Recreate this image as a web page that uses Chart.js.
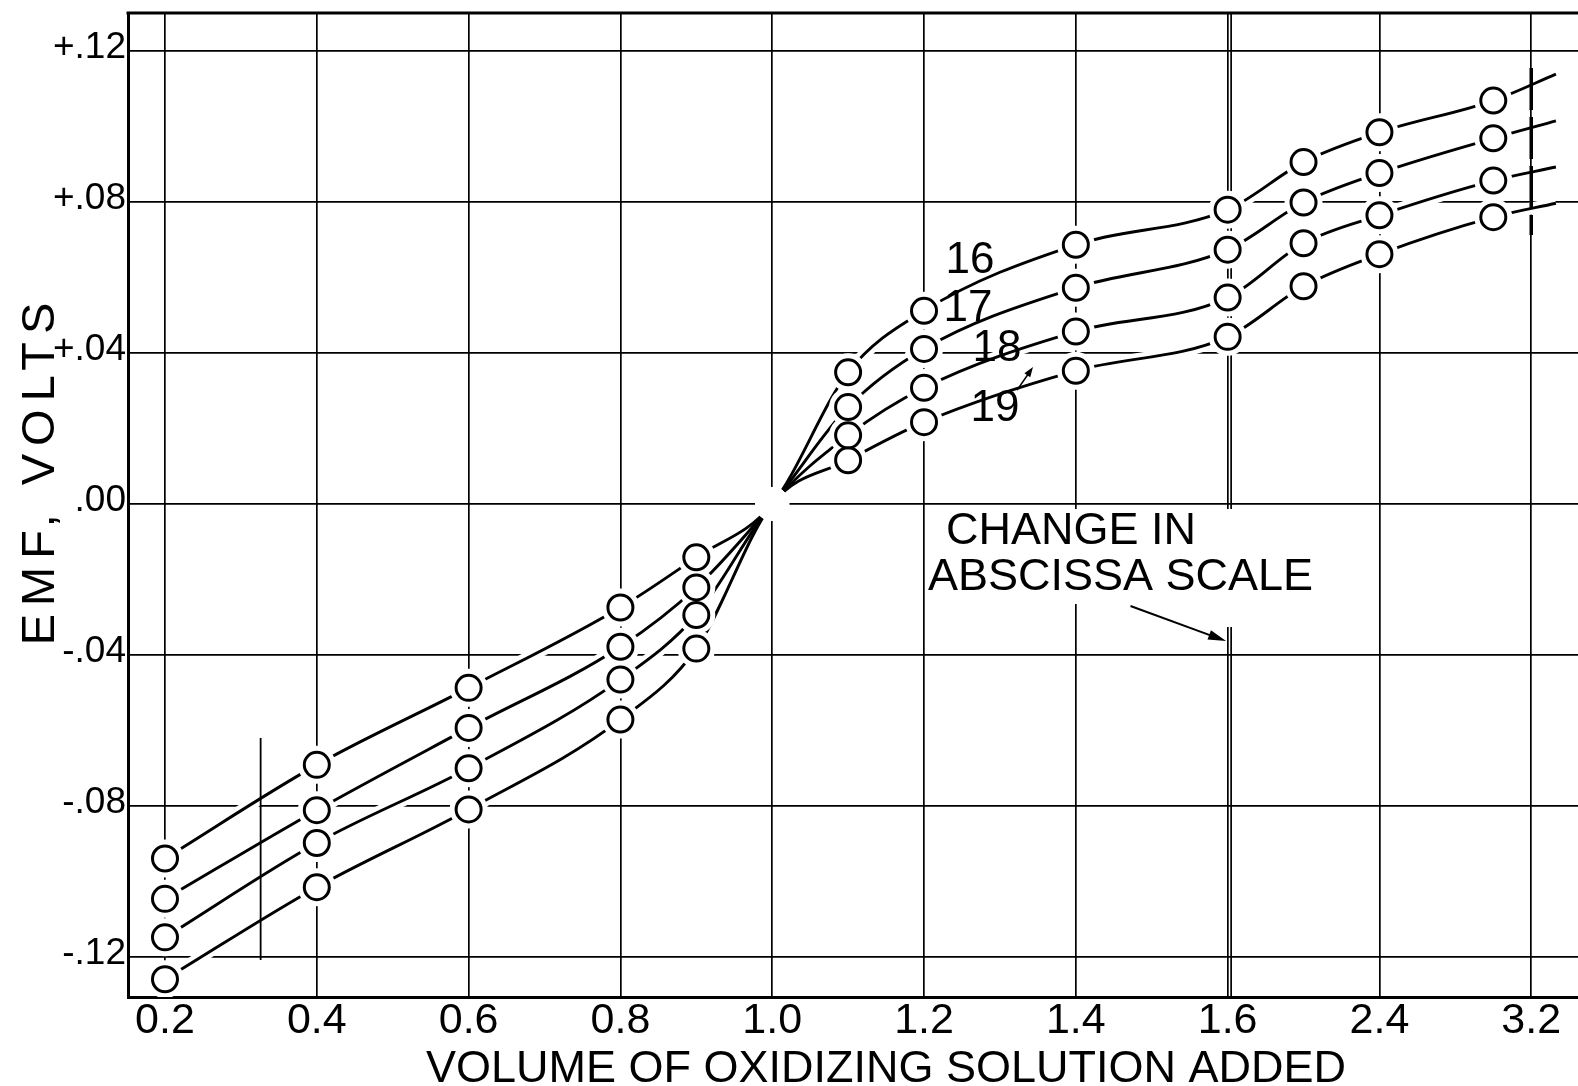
<!DOCTYPE html>
<html>
<head>
<meta charset="utf-8">
<title>EMF vs volume of oxidizing solution</title>
<script src="https://cdn.jsdelivr.net/npm/chart.js@4.4.1/dist/chart.umd.min.js"></script>
<style>
  html, body { margin: 0; padding: 0; background: #fff; overflow: hidden; }
  #wrap { position: relative; width: 1578px; height: 1086px; }
</style>
</head>
<body>
<div id="wrap"><canvas id="emfChart"></canvas></div>
<script>
// volumes of oxidizing solution where readings were taken
const volumes = [0.2, 0.4, 0.6, 0.8, 0.9, 1.0, 1.1, 1.2, 1.4, 1.6, 2.0, 2.4, 3.0];

// EMF readings (volts), one list per curve
const emf16 = [-0.0939, -0.0691, -0.0487, -0.0274, -0.0141, 0, 0.0349, 0.0512, 0.0687, 0.0780, 0.0906, 0.0985, 0.1069];
const emf17 = [-0.1046, -0.0811, -0.0593, -0.0378, -0.0221, 0, 0.0257, 0.0411, 0.0573, 0.0674, 0.0799, 0.0877, 0.0969];
const emf18 = [-0.1148, -0.0898, -0.0700, -0.0465, -0.0294, 0, 0.0182, 0.0308, 0.0457, 0.0547, 0.0691, 0.0765, 0.0857];
const emf19 = [-0.1259, -0.1015, -0.0809, -0.0571, -0.0383, 0, 0.0116, 0.0217, 0.0353, 0.0443, 0.0577, 0.0662, 0.0760];
const curveNames = ['16', '17', '18', '19'];

// short pen extensions past the last reading
const tailVolume = 3.33;
const tailEmf = [0.1139, 0.1015, 0.0893, 0.0797];

// axis ticks
const xTickVolumes = [0.2, 0.4, 0.6, 0.8, 1.0, 1.2, 1.4, 1.6, 2.4, 3.2];
const xTickLabels = ['0.2', '0.4', '0.6', '0.8', '1.0', '1.2', '1.4', '1.6', '2.4', '3.2'];
const yTickValues = [-0.12, -0.08, -0.04, 0, 0.04, 0.08, 0.12];
const yTickLabels = ['-.12', '-.08', '-.04', '.00', '+.04', '+.08', '+.12'];

// stray drafting marks on the sheet
const strayTickVolume = 0.326;
const strayTickEmf = [-0.062, -0.1208];
const heavyMarkVolume = 3.2;
const heavyMarkEmf = [0.1155, 0.0713];

// abscissa changes scale at 1.6: 0.2 per division below, 0.8 per division above
function toAxis(v) {
    return v <= 1.6 ? v / 0.2 : 8 + (v - 1.6) / 0.8;
}

const FONT = "'Liberation Sans', Arial, sans-serif";
const allCurves = [emf16, emf17, emf18, emf19];

function curvePoints(vals, i) {
    const pts = vals.map((v, k) => ({ x: toAxis(volumes[k]), y: v }));
    pts.push({ x: toAxis(tailVolume), y: tailEmf[i] });
    return pts;
}

function isReading(ctx) {
    const k = ctx.dataIndex;
    return k < volumes.length && volumes[k] !== 1.0;
}

const datasets = [];

// white ground under each curve so the grid breaks where a curve crosses it
allCurves.forEach((vals, i) => {
    datasets.push({
        data: curvePoints(vals, i),
        borderColor: '#fff',
        borderWidth: 12,
        pointRadius: 0,
        cubicInterpolationMode: 'monotone',
        order: 50
    });
});

// the curves themselves
allCurves.forEach((vals, i) => {
    datasets.push({
        label: curveNames[i],
        data: curvePoints(vals, i),
        borderColor: '#000',
        borderWidth: 2.9,
        pointRadius: 0,
        cubicInterpolationMode: 'monotone',
        order: 40
    });
});

// stray marks
datasets.push({
    data: strayTickEmf.map(v => ({ x: toAxis(strayTickVolume), y: v })),
    borderColor: '#000', borderWidth: 1.8, pointRadius: 0, order: 45
});
datasets.push({
    data: heavyMarkEmf.map(v => ({ x: toAxis(heavyMarkVolume), y: v })),
    borderColor: '#000', borderWidth: 3.5, borderDash: [42, 7], pointRadius: 0, order: 45
});

// clear ring round every reading, and round the common point at 1.0
allCurves.forEach((vals, i) => {
    datasets.push({
        data: curvePoints(vals, i),
        showLine: false,
        pointRadius: ctx => {
            const k = ctx.dataIndex;
            if (k >= volumes.length) return 0;
            return volumes[k] === 1.0 ? 17 : 19;
        },
        pointBackgroundColor: '#fff',
        pointBorderWidth: 0,
        order: 30
    });
});

// open circles
allCurves.forEach((vals, i) => {
    datasets.push({
        data: curvePoints(vals, i),
        showLine: false,
        pointRadius: ctx => isReading(ctx) ? 12.5 : 0,
        pointBackgroundColor: '#fff',
        pointBorderColor: '#000',
        pointBorderWidth: 3,
        order: 20
    });
});

function arrow(ctx, x1, y1, x2, y2, len, half) {
    const a = Math.atan2(y2 - y1, x2 - x1);
    ctx.beginPath();
    ctx.moveTo(x1, y1);
    ctx.lineTo(x2 - Math.cos(a) * len * 0.6, y2 - Math.sin(a) * len * 0.6);
    ctx.stroke();
    ctx.beginPath();
    ctx.moveTo(x2, y2);
    ctx.lineTo(x2 - Math.cos(a) * len - Math.sin(a) * half, y2 - Math.sin(a) * len + Math.cos(a) * half);
    ctx.lineTo(x2 - Math.cos(a) * len + Math.sin(a) * half, y2 - Math.sin(a) * len - Math.cos(a) * half);
    ctx.closePath();
    ctx.fill();
}

const sheetMarks = {
    id: 'sheetMarks',
    beforeDatasetsDraw(chart) {
        const { ctx, chartArea, scales: { x, y } } = chart;
        ctx.save();
        ctx.strokeStyle = '#000';
        ctx.fillStyle = '#000';

        // top frame line
        ctx.lineWidth = 3;
        ctx.beginPath();
        ctx.moveTo(chartArea.left - 1.5, chartArea.top);
        ctx.lineTo(chartArea.right, chartArea.top);
        ctx.stroke();

        // double rule marking the change of scale
        const xs = x.getPixelForValue(toAxis(1.6)) + 3.5;
        ctx.lineWidth = 1.7;
        ctx.beginPath();
        ctx.moveTo(xs, chartArea.top);
        ctx.lineTo(xs, chartArea.bottom);
        ctx.stroke();

        // note, lettered on a cleared patch of the grid
        const nx = x.getPixelForValue(6.03);
        const ny = y.getPixelForValue(-0.0074);
        ctx.fillStyle = '#fff';
        ctx.fillRect(nx - 2, ny - 23, 384, 95);
        ctx.fillRect(x.getPixelForValue(toAxis(1.6)) - 4, ny - 23, 12, 118);
        ctx.fillStyle = '#000';
        ctx.font = '45px ' + FONT;
        ctx.textAlign = 'left';
        ctx.textBaseline = 'middle';
        ctx.fillText('CHANGE IN', x.getPixelForValue(6.145), ny);
        ctx.fillText('ABSCISSA SCALE', x.getPixelForValue(6.026), y.getPixelForValue(-0.0196));
        ctx.lineWidth = 2;
        arrow(ctx, x.getPixelForValue(7.36), y.getPixelForValue(-0.027),
            x.getPixelForValue(7.99), y.getPixelForValue(-0.0363), 18, 5);
        ctx.restore();
    },
    afterDatasetsDraw(chart) {
        const { ctx, scales: { x, y } } = chart;
        ctx.save();
        ctx.fillStyle = '#000';
        ctx.strokeStyle = '#000';
        ctx.font = '44px ' + FONT;
        ctx.textAlign = 'center';
        ctx.textBaseline = 'middle';
        const spots = [[6.303, 0.0645], [6.290, 0.0518], [6.48, 0.0410], [6.468, 0.0252]];
        curveNames.forEach((n, i) => {
            ctx.fillText(n, x.getPixelForValue(spots[i][0]), y.getPixelForValue(spots[i][1]));
        });
        ctx.lineWidth = 1.5;
        arrow(ctx, x.getPixelForValue(6.613), y.getPixelForValue(0.0302),
            x.getPixelForValue(6.718), y.getPixelForValue(0.0363), 10, 3.5);
        ctx.restore();
    },
    afterDraw(chart) {
        const { ctx, chartArea } = chart;
        ctx.save();
        ctx.fillStyle = '#000';
        ctx.textAlign = 'center';
        ctx.textBaseline = 'middle';
        ctx.font = '45px ' + FONT;
        ctx.fillText('VOLUME OF OXIDIZING SOLUTION ADDED', chartArea.left + 758, chartArea.bottom + 73);
        ctx.translate(41, chartArea.top + 457);
        ctx.rotate(-Math.PI / 2);
        ctx.font = '47px ' + FONT;
        ctx.letterSpacing = '8px';
        ctx.fillText('EMF, VOLTS', 0, 0);
        ctx.restore();
    }
};

new Chart(document.getElementById('emfChart'), {
    type: 'line',
    data: { datasets },
    options: {
        responsive: true,
        maintainAspectRatio: false,
        animation: false,
        events: [],
        layout: { autoPadding: false, padding: { top: 13, left: 0, right: 0, bottom: 0 } },
        plugins: {
            legend: { display: false },
            tooltip: { enabled: false }
        },
        scales: {
            x: {
                type: 'linear',
                min: 0.7563,
                max: 10.308,
                afterBuildTicks: s => { s.ticks = xTickVolumes.map(v => ({ value: toAxis(v) })); },
                afterFit: s => { s.height = 89; s.paddingLeft = 0; s.paddingRight = 0; },
                grid: { color: '#000', lineWidth: 1.7, drawTicks: false },
                border: { color: '#000', width: 3 },
                ticks: {
                    autoSkip: false,
                    maxRotation: 0,
                    padding: 3,
                    color: '#000',
                    font: { family: FONT, size: 43, lineHeight: 1 },
                    callback: (v, i) => xTickLabels[i]
                }
            },
            y: {
                type: 'linear',
                min: -0.1306,
                max: 0.1301,
                afterBuildTicks: s => { s.ticks = yTickValues.map(v => ({ value: v })); },
                afterFit: s => { s.width = 128; s.paddingTop = 0; s.paddingBottom = 0; },
                grid: { color: '#000', lineWidth: 1.7, drawTicks: false },
                border: { color: '#000', width: 3 },
                ticks: {
                    padding: 2,
                    labelOffset: -3,
                    color: '#000',
                    font: { family: FONT, size: 37 },
                    callback: (v, i) => yTickLabels[i]
                }
            }
        }
    },
    plugins: [sheetMarks]
});
</script>
</body>
</html>
